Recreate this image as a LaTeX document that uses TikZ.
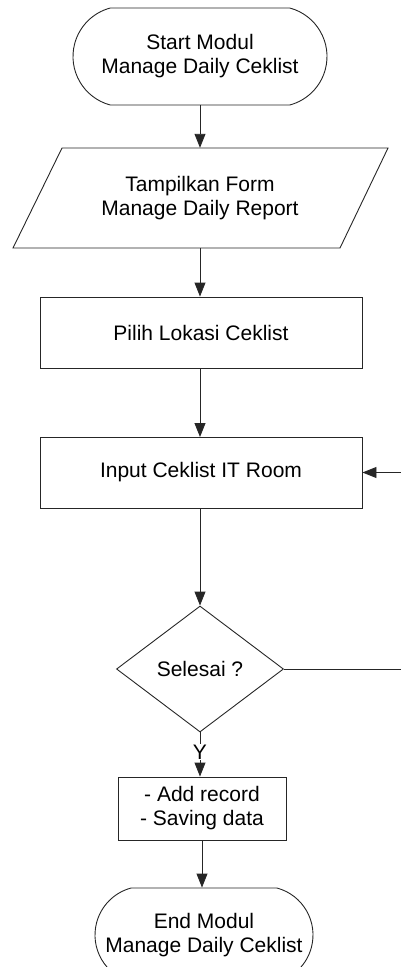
\documentclass[tikz,border=0pt]{standalone}
\usepackage{fontspec}
\setmainfont{Liberation Sans}
\usetikzlibrary{arrows.meta,shapes.geometric,shapes.misc}
\begin{document}
\begin{tikzpicture}[x=1pt,y=-1pt,
  every node/.style={font=\fontsize{21}{24}\selectfont, align=center},
  line/.style={draw=black!85, line width=0.9pt},
  arr/.style={line, -{Triangle[width=11pt,length=14pt]}},
  term/.style={line, rounded rectangle, rounded rectangle arc length=150, inner sep=0pt},
  procbox/.style={line, rectangle, inner sep=0pt},
  decbox/.style={line, diamond, inner sep=0pt}]
\useasboundingbox (0,0) rectangle (401,967);
\node[term, minimum width=254pt, minimum height=97pt] (start) at (200,56.5) {Start Modul\\Manage Daily Ceklist};
\draw[line] (62,148) -- (388,148) -- (340,248) -- (13,248) -- cycle;
\node[minimum height=100pt, inner sep=0pt] (form) at (200,198) {Tampilkan Form\\Manage Daily Report};
\node[procbox, minimum width=322pt, minimum height=71pt] (pilih) at (201,332.5) {Pilih Lokasi Ceklist};
\node[procbox, minimum width=322pt, minimum height=71pt] (input) at (201,472.5) {Input Ceklist IT Room};
\node[decbox, minimum width=167pt, minimum height=126pt] (dec) at (200,669) {Selesai ?};
\node[procbox, minimum width=168pt, minimum height=63pt] (save) at (202,808.5) {- Add record\\- Saving data};
\node[term, minimum width=218pt, minimum height=94pt] (end) at (204,935) {End Modul\\Manage Daily Ceklist};
\coordinate (loop) at (403,669);
\draw[arr] (start.south) -- (start.south |- form.north);
\draw[arr] (form.south) -- (form.south |- pilih.north);
\draw[arr] (200,368) -- (200,437);
\draw[arr] (200,508) -- (dec.north);
\draw[arr] (dec.south) -- (dec.south |- save.north);
\node[fill=white, inner sep=1pt] (ylab) at (200,752) {Y};
\draw[arr] (save.south) -- (save.south |- end.north);
\draw[arr] (dec.east) -- (loop) |- (input.east);
\end{tikzpicture}
\end{document}
